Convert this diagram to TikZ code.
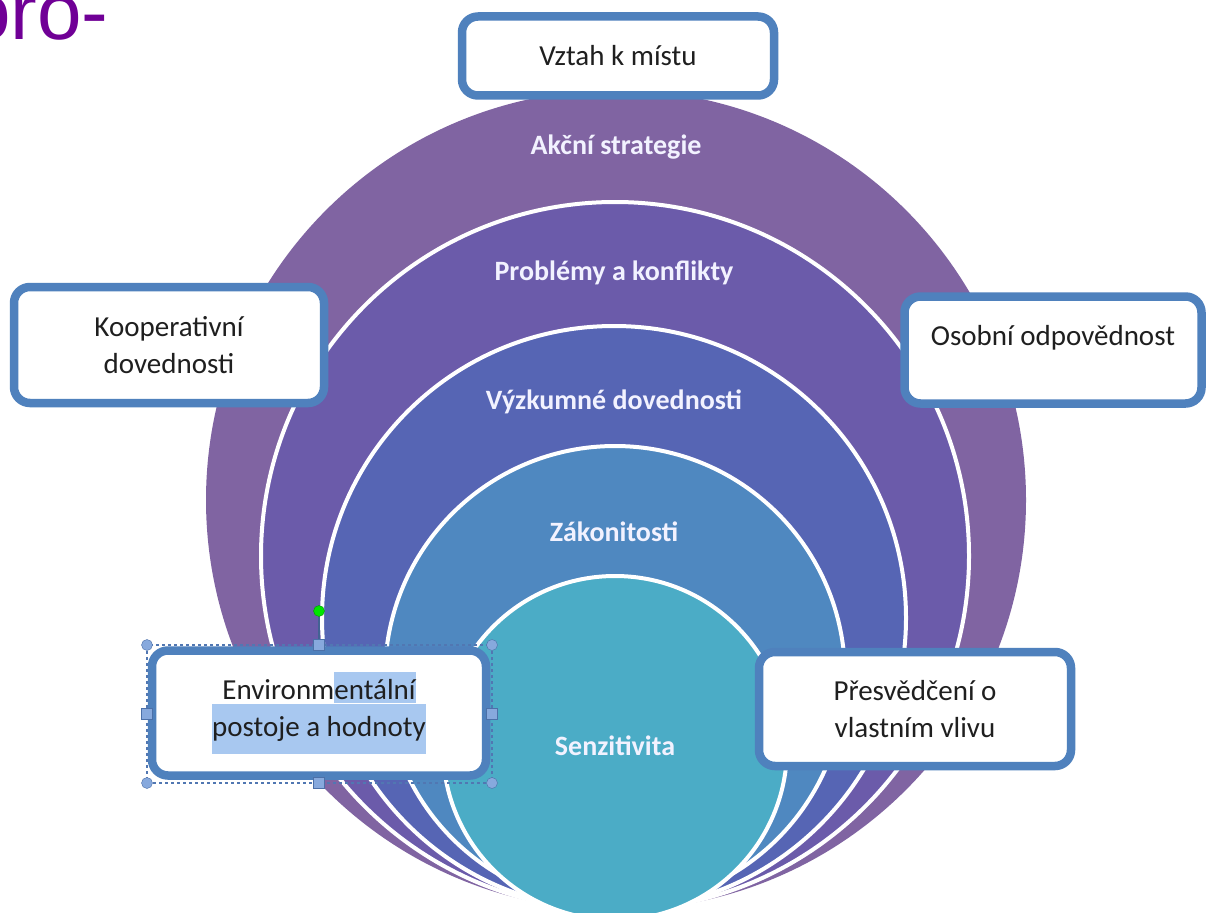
\documentclass[tikz,border=0pt]{standalone}
\usepackage{fontspec}
\setmainfont{Carlito}
\newfontfamily\headfont{Liberation Sans}
\usetikzlibrary{positioning}
\definecolor{ringA}{RGB}{128,100,162}
\definecolor{ringB}{RGB}{107,91,170}
\definecolor{ringC}{RGB}{86,101,180}
\definecolor{ringD}{RGB}{79,136,192}
\definecolor{ringE}{RGB}{75,172,198}
\definecolor{boxblue}{RGB}{79,129,189}
\definecolor{headpurple}{RGB}{112,0,150}
\definecolor{selblue}{RGB}{168,200,240}
\definecolor{handle}{RGB}{95,140,210}
\newcommand{\selhl}[2]{{\setlength{\fboxsep}{0pt}\colorbox{selblue}{#1#2}}}

\begin{document}
\begin{tikzpicture}[x=1pt,y=-1pt,
    ring/.style={draw=white,line width=4pt},
    tag/.style={text=white!95!blue,font=\bfseries\fontsize{28}{34}\selectfont},
    card/.style={draw=boxblue,line width=8.5pt,fill=white,rounded corners=16pt,
      align=center,font=\fontsize{29}{37}\selectfont,text=black!88,inner sep=0pt},
    grip/.style={draw=handle!80!black,fill=handle!75,minimum size=11pt,inner sep=0pt}]
  \clip (0,0) rectangle (1206,912);
  \fill[white] (0,0) rectangle (1206,912);
  \node[anchor=base west,inner sep=0pt,text=headpurple,font=\headfont\fontsize{80}{90}\selectfont] (head) at (-34,40) {oro-};
  % stacked circles
  \fill[ringA] (616,500) circle[radius=410pt];
  \filldraw[ring,fill=ringB] (615,556) circle[radius=354pt];
  \filldraw[ring,fill=ringC] (614,618) circle[radius=292pt];
  \filldraw[ring,fill=ringD] (615,676) circle[radius=230pt];
  \filldraw[ring,fill=ringE] (615,748) circle[radius=172pt];
  \node[tag] (strategy) at (616,147) {Akční strategie};
  \node[tag] (issues) at (614,273) {Problémy a konflikty};
  \node[tag] (research) at (614,402) {Výzkumné dovednosti};
  \node[tag] (laws) at (614,532) {Zákonitosti};
  \node[tag] (sense) at (615,746) {Senzitivita};
  % boxes
  \node[card,minimum width=312pt,minimum height=79pt] (place) at (618,56) {Vztah k místu};
  \node[card,minimum width=310pt,minimum height=116pt] (coop) at (169,345) {Kooperativní\\dovednosti};
  \node[card,minimum width=297pt,minimum height=107pt,text depth=30pt] (resp) at (1053,350) {Osobní odpovědnost};
  \node[card,minimum width=334pt,minimum height=125pt] (attitude) at (319,713)
    {Environm\selhl{\rule[-4pt]{0pt}{31pt}}{entální}\\\selhl{\rule[-18pt]{0pt}{50pt}}{postoje a hodnoty}};
  \node[card,minimum width=312pt,minimum height=114pt] (belief) at (915,709) {Přesvědčení o\\vlastním vlivu};
  % selection frame
  \draw[handle!85!black,dashed,line width=1.2pt] (147,645) rectangle (492,783);
  \foreach \n/\p in {a/{(147,645)},b/{(492,645)},c/{(147,783)},d/{(492,783)}}
    \node[grip,circle] (dot\n) at \p {};
  \foreach \n/\p in {n/{(319,645)},w/{(147,714)},e/{(492,714)},s/{(319,783)}}
    \node[grip] (sq\n) at \p {};
  \node[grip,circle,draw=green!60!black,fill=green!90!black] (turn) at (319,611) {};
  \draw[handle!70!black,line width=1.2pt] (turn) -- (sqn);
\end{tikzpicture}
\end{document}
